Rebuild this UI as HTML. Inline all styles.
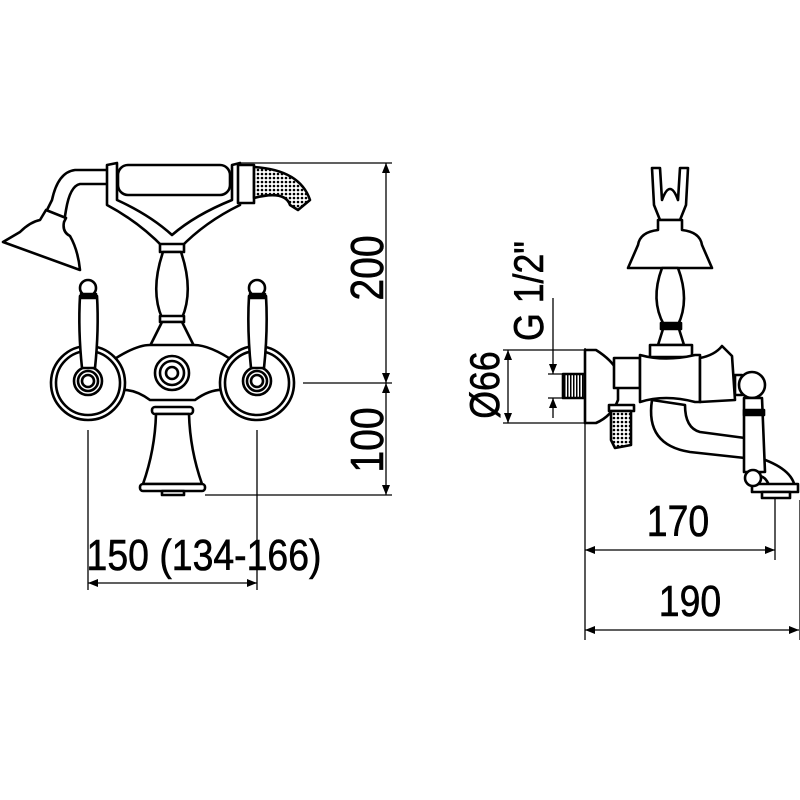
<!DOCTYPE html>
<html><head><meta charset="utf-8"><style>
html,body{margin:0;padding:0;background:#fff;}
svg{display:block;}
text{font-family:"Liberation Sans",sans-serif;fill:#000;stroke:#000;stroke-width:0.6;}
</style></head><body>
<svg width="800" height="800" viewBox="0 0 800 800" xmlns="http://www.w3.org/2000/svg">
<defs>
<pattern id="mesh" width="4" height="4" patternUnits="userSpaceOnUse">
<rect width="4" height="4" fill="#fff"/><circle cx="2" cy="2" r="1.3" fill="#000"/></pattern>
<pattern id="hatch" width="3" height="3" patternUnits="userSpaceOnUse">
<rect width="3" height="3" fill="#fff"/><rect width="1.5" height="3" fill="#000"/></pattern>
<marker id="ar" viewBox="0 0 10 10" refX="10" refY="5" markerWidth="14" markerHeight="10" markerUnits="userSpaceOnUse" orient="auto-start-reverse">
<path d="M0,1 L10,5 L0,9 Z" fill="#000"/></marker>
</defs>

<!-- ===== LEFT VIEW ===== -->
<g fill="none" stroke="#000" stroke-width="1.3">
<line x1="240" y1="163" x2="392" y2="163"/>
<line x1="303" y1="383" x2="392" y2="383"/>
<line x1="205" y1="495" x2="392" y2="495"/>
<line x1="386" y1="163" x2="386" y2="383" marker-start="url(#ar)" marker-end="url(#ar)"/>
<line x1="386" y1="383" x2="386" y2="495" marker-start="url(#ar)" marker-end="url(#ar)"/>
<line x1="88" y1="430" x2="88" y2="590"/>
<line x1="257" y1="430" x2="257" y2="590"/>
<line x1="88" y1="583" x2="257" y2="583" marker-start="url(#ar)" marker-end="url(#ar)"/>
</g>
<text transform="translate(383,268) rotate(-90) scale(0.85,1)" font-size="46" text-anchor="middle">200</text>
<text transform="translate(383,440) rotate(-90) scale(0.85,1)" font-size="46" text-anchor="middle">100</text>
<text transform="translate(204,570) scale(0.85,1)" font-size="44" text-anchor="middle">150 (134-166)</text>

<g fill="#fff" stroke="#000" stroke-width="2.6" stroke-linejoin="round">
<path d="M108,170 L75,170 Q58,172 52,200 L46,212 M108,184 L80,184 Q70,186 66,210 L64,222" fill="none"/>
<path d="M46,210 L66,218 L64,222 Q62,232 70,236 Q78,250 80,270 L3,242 L20,232 Q30,222 40,220 Z"/>
<path d="M107,165 L117,163 L117,200 Q150,215 172,235 Q195,215 232,200 L232,165 L240,163 L240,205 Q205,222 180,248 L164,248 Q139,222 107,205 Z"/>
<rect x="118" y="165" width="112" height="30" rx="10"/>
<rect x="238" y="165" width="16" height="38"/>
<path d="M254,167 Q300,170 310,200 L298,210 L290,205 Q285,190 254,198 Z" fill="url(#mesh)"/>
<rect x="160" y="244" width="24" height="8"/>
<path d="M163,252 Q150,290 162,318 L182,318 Q194,290 181,252 Z"/>
<rect x="160" y="316" width="24" height="6"/>
<path d="M162,322 Q155,336 150,346 L194,346 Q189,336 182,322 Z"/>
<path d="M110,362 Q135,345 150,345 L194,345 Q210,345 235,362 L235,392 Q215,385 195,400 L150,400 Q130,385 110,392 Z"/>
<circle cx="88" cy="383" r="37"/><circle cx="88" cy="383" r="32"/>
<circle cx="257" cy="383" r="37"/><circle cx="257" cy="383" r="32"/>
<circle cx="88" cy="381" r="14"/><circle cx="88" cy="381" r="10"/><circle cx="88" cy="381" r="6"/>
<circle cx="257" cy="381" r="14"/><circle cx="257" cy="381" r="10"/><circle cx="257" cy="381" r="6"/>
<circle cx="172" cy="373" r="17"/><circle cx="172" cy="373" r="12"/><circle cx="172" cy="373" r="6"/>
<path d="M80,296 Q78,330 82,368 L95,368 Q99,330 97,296 Z"/>
<circle cx="88" cy="288" r="8"/><rect x="81" y="294" width="15" height="4" fill="#000"/>
<path d="M249,296 Q247,330 251,368 L264,368 Q268,330 266,296 Z"/>
<circle cx="257" cy="288" r="8"/><rect x="250" y="294" width="15" height="4" fill="#000"/>
<rect x="152" y="407" width="41" height="7" rx="3"/>
<path d="M156,414 Q155,450 143,484 L202,484 Q190,450 189,414 Z"/>
<rect x="140" y="484" width="65" height="7" rx="3"/>
<rect x="162" y="491" width="22" height="4"/>
</g>

<!-- ===== RIGHT VIEW ===== -->
<g fill="none" stroke="#000" stroke-width="1.3">
<line x1="585" y1="348" x2="585" y2="640"/>
<line x1="775" y1="495" x2="775" y2="560"/>
<line x1="800" y1="500" x2="800" y2="640"/>
<line x1="585" y1="550" x2="775" y2="550" marker-start="url(#ar)" marker-end="url(#ar)"/>
<line x1="585" y1="630" x2="799" y2="630" marker-start="url(#ar)" marker-end="url(#ar)"/>
<line x1="503" y1="350" x2="585" y2="350"/>
<line x1="503" y1="423" x2="585" y2="423"/>
<line x1="508" y1="350" x2="508" y2="423" marker-start="url(#ar)" marker-end="url(#ar)"/>
<line x1="548" y1="374" x2="585" y2="374"/>
<line x1="548" y1="398" x2="585" y2="398"/>
<line x1="553" y1="298" x2="553" y2="374" marker-end="url(#ar)"/>
<line x1="553" y1="418" x2="553" y2="398" marker-end="url(#ar)"/>
</g>
<text transform="translate(678,536) scale(0.85,1)" font-size="44" text-anchor="middle">170</text>
<text transform="translate(690,616) scale(0.85,1)" font-size="44" text-anchor="middle">190</text>
<text transform="translate(499,385) rotate(-90) scale(0.85,1)" font-size="42" text-anchor="middle">Ø66</text>
<text transform="translate(543,291) rotate(-90) scale(0.85,1)" font-size="42" text-anchor="middle">G 1/2"</text>

<g fill="#fff" stroke="#000" stroke-width="2.6" stroke-linejoin="round">
<rect x="563" y="374" width="22" height="24" fill="url(#hatch)"/>
<path d="M652,168 L660,168 L662,200 Q670,178 678,200 L680,168 L688,168 L686,205 L680,220 L660,220 L654,205 Z"/>
<path d="M658,220 L682,220 L682,230 Q700,232 702,245 L712,268 L628,268 L638,245 Q640,232 658,230 Z"/>
<path d="M662,268 Q650,300 664,325 L678,325 Q690,300 678,268 Z"/>
<rect x="661" y="323" width="20" height="6" fill="#000"/>
<path d="M663,329 L658,345 L684,345 L679,329 Z"/>
<rect x="650" y="345" width="42" height="12"/>
<path d="M585,350 L596,350 Q612,360 618,372 L618,400 Q612,416 596,423 L585,423 Z"/>
<rect x="609" y="405" width="25" height="6"/>
<path d="M611,411 L631,411 L631,445 L615,448 L611,440 Z" fill="url(#mesh)"/>
<path d="M652,400 Q645,445 690,452 L745,458 L745,438 L700,432 Q685,428 685,405 Z"/>
<path d="M760,458 Q795,470 795,490 L770,490 Q768,478 760,476 Z"/>
<rect x="752" y="484" width="46" height="8"/>
<rect x="762" y="492" width="28" height="6"/>
<rect x="614" y="358" width="26" height="30"/>
<path d="M640,355 Q665,362 695,355 L700,355 L700,402 L695,402 Q665,394 640,402 Z"/>
<path d="M700,358 Q715,355 722,346 Q728,352 732,356 L735,400 L700,402 Z"/>
<rect x="735" y="375" width="7" height="20"/>
<circle cx="752" cy="385" r="13"/>
<path d="M744,398 L762,398 L765,472 L744,472 Z"/>
<rect x="744" y="410" width="20" height="5" fill="#000"/>
<circle cx="753" cy="478" r="8"/>
</g>
</svg>
</body></html>
